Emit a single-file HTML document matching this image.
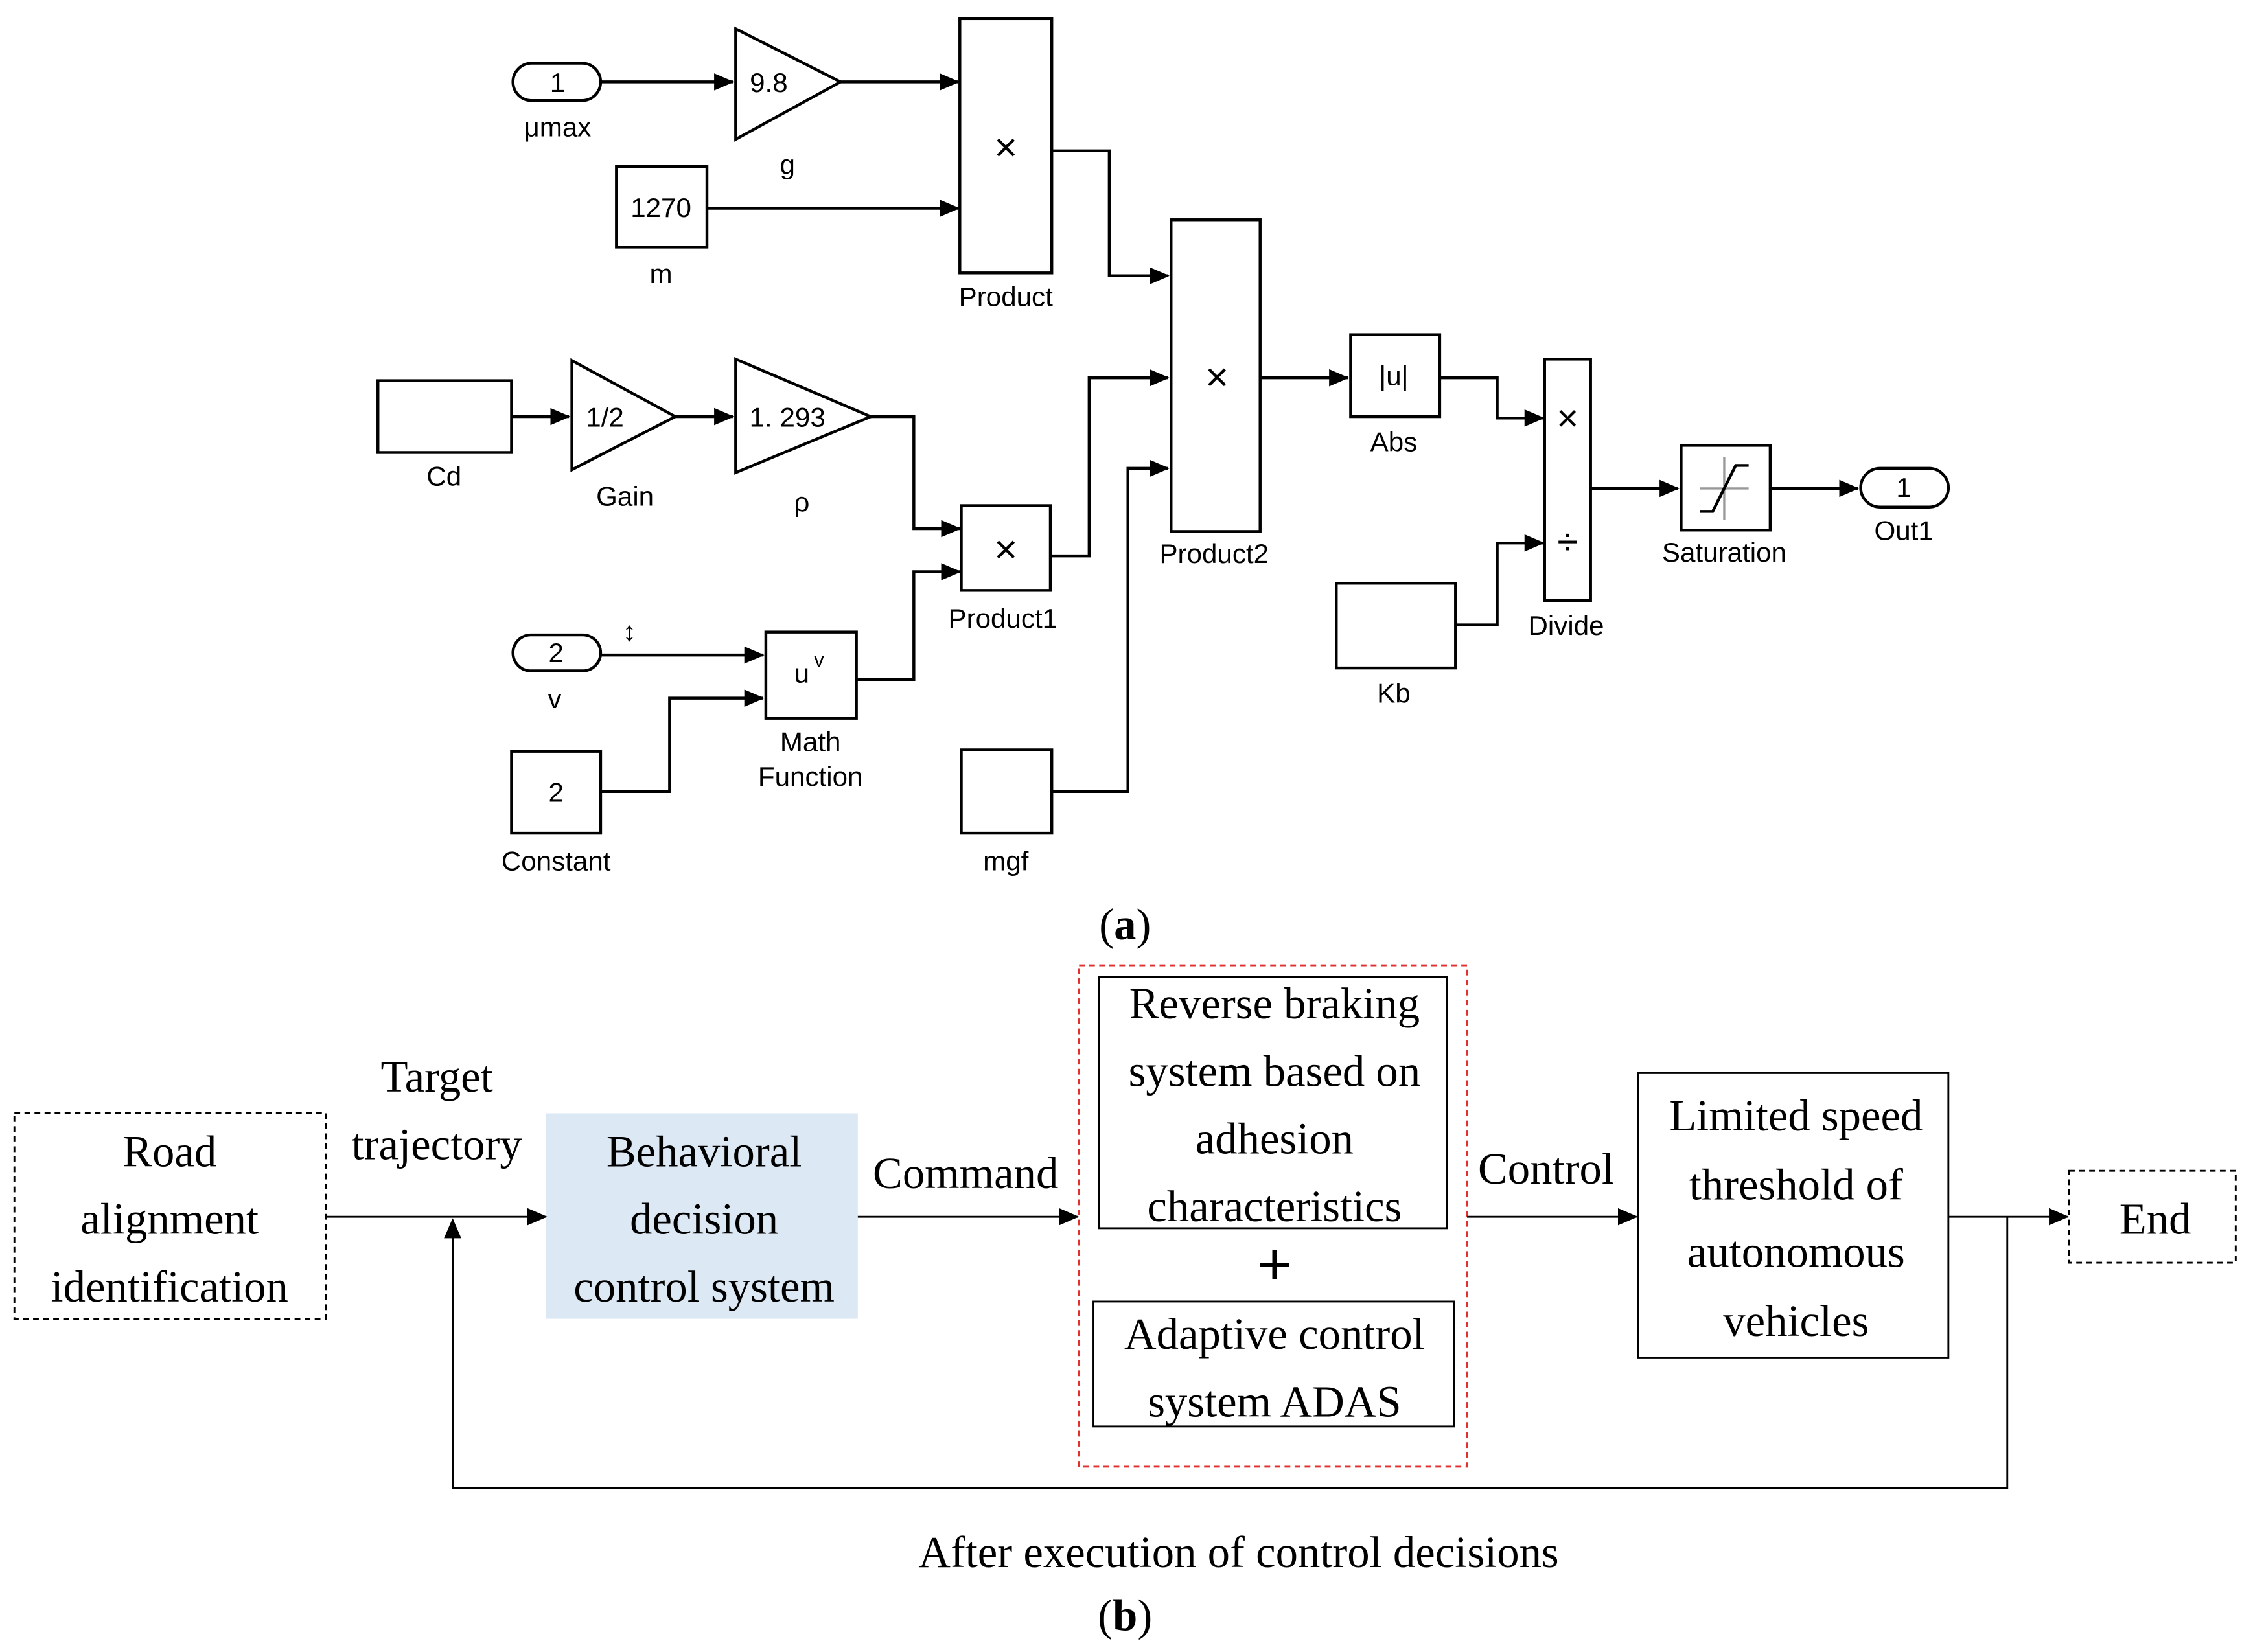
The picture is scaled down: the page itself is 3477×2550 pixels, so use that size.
<!DOCTYPE html>
<html><head><meta charset="utf-8"><style>html,body{margin:0;padding:0;background:#fff}svg{display:block}</style></head>
<body>
<svg width="3477" height="2550" viewBox="0 0 1568 1150" xmlns="http://www.w3.org/2000/svg">
<defs>
<marker id="a" markerWidth="14" markerHeight="12" refX="13" refY="6" orient="auto" markerUnits="userSpaceOnUse"><path d="M0,0 L14,6 L0,12 z" fill="#000"/></marker>
<marker id="b" markerWidth="14" markerHeight="12" refX="13" refY="6" orient="auto" markerUnits="userSpaceOnUse"><path d="M0,0 L14,6 L0,12 z" fill="#000"/></marker>
</defs>
<g font-family="Liberation Sans, sans-serif" font-size="19" text-anchor="middle" fill="none" stroke="#000" stroke-width="2">
<rect x="357" y="44" width="61" height="26" rx="13"/>
<polygon points="512,20 512,97 585,57"/>
<rect x="668" y="13" width="64" height="177"/>
<rect x="429" y="116" width="63" height="56"/>
<rect x="815" y="153" width="62" height="217"/>
<rect x="263" y="265" width="93" height="50"/>
<polygon points="398,251 398,327 470,290"/>
<polygon points="512,250 512,329 606,290"/>
<rect x="669" y="352" width="62" height="59"/>
<rect x="669" y="522" width="63" height="58"/>
<rect x="357" y="442" width="61" height="25" rx="12.5"/>
<rect x="533" y="440" width="63" height="60"/>
<rect x="356" y="523" width="62" height="57"/>
<rect x="940" y="233" width="62" height="57"/>
<rect x="1075" y="250" width="32" height="168"/>
<rect x="930" y="406" width="83" height="59"/>
<rect x="1170" y="310" width="62" height="59"/>
<rect x="1295" y="326" width="61" height="27" rx="13.5"/>
<path d="M1183,340 H1217 M1200,318 V362" stroke="#999" stroke-width="1.5"/>
<path d="M1183,356 H1192 L1208,324 H1217" stroke-width="2"/>
<g marker-end="url(#a)">
<path d="M418,57 H510"/>
<path d="M585,57 H667"/>
<path d="M492,145 H667"/>
<path d="M732,105 H772 V192 H813"/>
<path d="M356,290 H396"/>
<path d="M470,290 H510"/>
<path d="M606,290 H636 V368 H668"/>
<path d="M731,387 H758 V263 H813"/>
<path d="M732,551 H785 V326 H813"/>
<path d="M418,456 H531"/>
<path d="M596,473 H636 V398 H668"/>
<path d="M418,551 H466 V486 H531"/>
<path d="M877,263 H938"/>
<path d="M1002,263 H1042 V291 H1074"/>
<path d="M1013,435 H1042 V378 H1074"/>
<path d="M1107,340 H1168"/>
<path d="M1232,340 H1293"/>
</g>
<g fill="#000" stroke="none">
<text x="388" y="64">1</text>
<text x="388" y="95">μmax</text>
<text x="535" y="64">9.8</text>
<text x="548" y="121">g</text>
<text x="700" y="112" font-size="28">×</text>
<text x="700" y="213">Product</text>
<text x="460" y="151">1270</text>
<text x="460" y="197">m</text>
<text x="847" y="272" font-size="28">×</text>
<text x="845" y="392">Product2</text>
<text x="309" y="338">Cd</text>
<text x="421" y="297">1/2</text>
<text x="435" y="352">Gain</text>
<text x="548" y="297">1. 293</text>
<text x="558" y="356">ρ</text>
<text x="700" y="392" font-size="28">×</text>
<text x="698" y="437">Product1</text>
<text x="700" y="606">mgf</text>
<text x="387" y="461">2</text>
<text x="386" y="493">v</text>
<text x="438" y="446">↕</text>
<text x="558" y="475">u</text><text x="570" y="464" font-size="14">v</text>
<text x="564" y="523">Math</text>
<text x="564" y="547">Function</text>
<text x="387" y="558">2</text>
<text x="387" y="606">Constant</text>
<text x="970" y="268">|u|</text>
<text x="970" y="314">Abs</text>
<text x="1091" y="300" font-size="26">×</text>
<text x="1091" y="386" font-size="26">÷</text>
<text x="1090" y="442">Divide</text>
<text x="970" y="489">Kb</text>
<text x="1200" y="391">Saturation</text>
<text x="1325" y="346">1</text>
<text x="1325" y="376">Out1</text>
</g>
</g>
<g font-family="Liberation Serif, serif" font-size="31" text-anchor="middle" fill="#000">
<text x="783" y="654">(<tspan font-weight="bold">a</tspan>)</text>
<text x="783" y="1135">(<tspan font-weight="bold">b</tspan>)</text>
<g fill="none" stroke="#000" stroke-width="1.3">
<rect x="10" y="775" width="217" height="143" stroke-dasharray="4,3"/>
<rect x="380" y="775" width="217" height="143" fill="#dce8f4" stroke="none"/>
<rect x="751" y="672" width="270" height="349" stroke="#e03030" stroke-dasharray="4,3"/>
<rect x="765" y="680" width="242" height="175"/>
<rect x="761" y="906" width="251" height="87"/>
<rect x="1140" y="747" width="216" height="198"/>
<rect x="1440" y="815" width="116" height="64" stroke-dasharray="4,3"/>
<g marker-end="url(#b)">
<path d="M227,847 H380"/>
<path d="M597,847 H750"/>
<path d="M1021,847 H1139"/>
<path d="M1356,847 H1439"/>
<path d="M1397,847 V1036 H315 V849"/>
</g>
</g>
<text x="118" y="812">Road</text>
<text x="118" y="859">alignment</text>
<text x="118" y="906">identification</text>
<text x="304" y="760">Target</text>
<text x="304" y="807">trajectory</text>
<text x="490" y="812">Behavioral</text>
<text x="490" y="859">decision</text>
<text x="490" y="906">control system</text>
<text x="672" y="827">Command</text>
<text x="887" y="709">Reverse braking</text>
<text x="887" y="756">system based on</text>
<text x="887" y="803">adhesion</text>
<text x="887" y="850">characteristics</text>
<text x="887" y="895" font-size="44" font-weight="bold">+</text>
<text x="887" y="939">Adaptive control</text>
<text x="887" y="986">system ADAS</text>
<text x="1076" y="824">Control</text>
<text x="1250" y="787">Limited speed</text>
<text x="1250" y="835">threshold of</text>
<text x="1250" y="882">autonomous</text>
<text x="1250" y="930">vehicles</text>
<text x="1500" y="859">End</text>
<text x="862" y="1091">After execution of control decisions</text>
</g>
</svg>
</body></html>
